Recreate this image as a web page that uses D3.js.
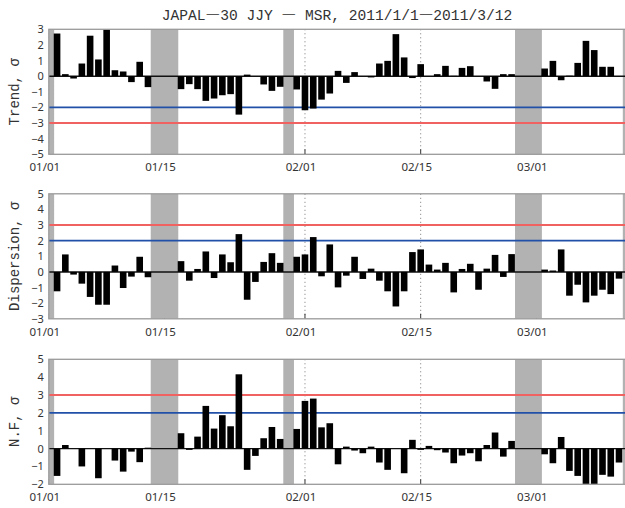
<!DOCTYPE html>
<html>
<head>
<meta charset="utf-8">
<script src="https://cdn.jsdelivr.net/npm/d3@7"></script>
<style>
  body { margin: 0; background: #fff; }
  svg { display: block; }
</style>
</head>
<body>
<svg id="chart" width="625" height="508"></svg>
<script>
// Daily anomaly indices (in sigma), one value per day from 2011/01/01; null = no data
const startDate = "2011-01-01";

const trend = [2.73,0.13,-0.15,0.81,2.59,1.07,3.0,0.38,0.3,-0.38,0.92,-0.7,null,null,null,
  -0.83,-0.51,-0.83,-1.58,-1.43,-1.22,-1.15,-2.46,0.1,0,-0.53,-0.94,-0.68,null,
  -0.85,-2.18,-2.07,-1.5,-1.11,0.34,-0.43,0.26,0,-0.08,0.81,0.98,2.69,1.2,-0.12,0.77,
  0,0.13,0.66,0.02,0.53,0.64,0,-0.34,-0.81,0.13,0.13,null,null,null,
  0.49,0.98,-0.26,0.03,0.85,2.26,1.67,0.6,0.6,0,null];

const dispersion = [-1.24,1.12,-0.17,-0.75,-1.6,-2.1,-2.1,0.41,-1.03,-0.3,0.97,-0.34,null,null,null,
  0.69,-0.56,0.19,1.31,-0.39,1.12,0.62,2.42,-1.78,-0.64,0.64,1.2,0.58,null,
  0.97,1.12,2.23,-0.28,1.76,-0.99,-0.24,0.97,-0.45,0.21,-0.56,-1.24,-2.21,-1.24,1.27,1.44,
  0.47,0.15,0.58,-1.31,0.19,0.52,-1.14,0.21,1.09,-0.32,1.14,null,null,null,
  0.15,0.09,1.44,-1.52,-0.82,-1.95,-1.52,-1.14,-1.42,-0.43,null];

const nf = [-1.53,0.2,0,-1.0,0,-1.66,0,-0.67,-1.29,-0.17,-0.76,0.05,null,null,null,
  0.86,-0.07,0.67,2.39,1.12,1.87,1.25,4.16,-1.19,-0.41,0.58,1.21,0.54,null,
  1.1,2.67,2.8,1.19,1.42,-0.88,0.11,-0.11,-0.26,0.11,-0.78,-1.19,0,-1.38,0.49,-0.07,
  0.15,-0.09,-0.22,-0.82,-0.39,-0.26,-0.71,0.2,0.9,-0.45,0.43,null,null,null,
  -0.32,-0.82,0.65,-1.25,-1.53,-2.0,-2.0,-1.47,-1.57,-0.78,null];

// Periods without observations (shaded)
const gapStarts = ["2011-01-01T00:00Z","2011-01-13T08:00Z","2011-01-29T09:00Z","2011-02-26T10:00Z","2011-03-11T11:00Z"];
const gapEnds   = ["2011-01-01T15:30Z","2011-01-16T16:00Z","2011-01-30T16:00Z","2011-03-01T16:00Z","2011-03-13T00:00Z"];

const tickDates = ["2011-01-01","2011-01-15","2011-02-01","2011-02-15","2011-03-01"];

const panelNames = ["Trend, σ", "Dispersion, σ", "N.F, σ"];
const panelSeries = [trend, dispersion, nf];
const yDomains = [[-5, 3], [-3, 5], [-2, 5]];
const blueLevels = [-2, 2, 2];
const redLevels = [-3, 3, 3];

const titleParts = ["JAPAL", "―", "30 JJY ", "―", " MSR, 2011/1/1", "―", "2011/3/12"];

const svg = d3.select("#chart");
const parse = s => new Date(s.length === 10 ? s + "T00:00Z" : s);
const t0 = parse(startDate);

const left = 48.8, dayPx = 8.264;
const x = d3.scaleUtc()
  .domain([t0, d3.utcDay.offset(t0, 71)])
  .range([left, left + 71 * dayPx]);

const panelTops = [29.3, 193.8, 359.3];
const panelH = 125;
const plotRight = x.range()[1];

// title
const title = svg.append("text")
  .attr("x", 337).attr("y", 20)
  .attr("text-anchor", "middle")
  .attr("font-family", "'Liberation Mono', 'DejaVu Sans Mono', monospace")
  .attr("font-size", 14.6)
  .attr("fill", "#333");
titleParts.forEach(p => {
  const ts = title.append("tspan").text(p);
  if (p === "―") ts.attr("font-family", "'Noto Sans CJK JP', sans-serif");
});

panelSeries.forEach((series, pi) => {
  const top = panelTops[pi];
  const bottom = top + panelH;
  const y = d3.scaleLinear().domain(yDomains[pi]).range([bottom, top]);
  const g = svg.append("g");
  const clipId = "clip" + pi;
  svg.append("clipPath").attr("id", clipId)
    .append("rect").attr("x", left).attr("y", top).attr("width", plotRight - left).attr("height", panelH);

  const body = g.append("g").attr("clip-path", `url(#${clipId})`);

  // dotted date grid and short date ticks (shading covers them inside gaps)
  body.selectAll(".grid").data(tickDates).join("line")
    .attr("x1", d => x(parse(d))).attr("x2", d => x(parse(d)))
    .attr("y1", top).attr("y2", bottom)
    .attr("stroke", "#777").attr("stroke-width", 1)
    .attr("stroke-dasharray", "1,3");
  body.selectAll(".tk").data(tickDates).join("line")
    .attr("x1", d => x(parse(d))).attr("x2", d => x(parse(d)))
    .attr("y1", bottom - 5).attr("y2", bottom)
    .attr("stroke", "#333").attr("stroke-width", 1);

  // data gaps
  body.selectAll(".gap").data(gapStarts).join("rect")
    .attr("x", d => x(parse(d)))
    .attr("width", (d, i) => x(parse(gapEnds[i])) - x(parse(d)))
    .attr("y", top).attr("height", panelH)
    .attr("fill", "#b2b2b2");

  // threshold levels
  body.append("line")
    .attr("x1", left).attr("x2", plotRight)
    .attr("y1", y(blueLevels[pi])).attr("y2", y(blueLevels[pi]))
    .attr("stroke", "#2150a8").attr("stroke-width", 1.8);
  body.append("line")
    .attr("x1", left).attr("x2", plotRight)
    .attr("y1", y(redLevels[pi])).attr("y2", y(redLevels[pi]))
    .attr("stroke", "#f06262").attr("stroke-width", 2);

  // zero line
  body.append("line")
    .attr("x1", left).attr("x2", plotRight)
    .attr("y1", y(0)).attr("y2", y(0))
    .attr("stroke", "#111").attr("stroke-width", 1.4);

  // daily bars, centred at the end of each day
  const bw = dayPx * 0.8;
  const pts = series.map((v, k) => ({ v, t: d3.utcDay.offset(t0, k + 1) })).filter(d => d.v !== null);
  body.selectAll(".bar").data(pts).join("rect")
    .attr("x", d => x(d.t) - bw / 2)
    .attr("width", bw)
    .attr("y", d => y(Math.max(0, d.v)))
    .attr("height", d => Math.abs(y(d.v) - y(0)))
    .attr("fill", "#000");

  // frame
  g.append("rect")
    .attr("x", left).attr("y", top).attr("width", plotRight - left).attr("height", panelH)
    .attr("fill", "none").attr("stroke", "#9a9a9a").attr("stroke-width", 1.3);

  // y axis
  const ya = g.append("g").attr("transform", `translate(${left},0)`)
    .call(d3.axisLeft(y).ticks(yDomains[pi][1] - yDomains[pi][0]).tickFormat(d3.format("d")).tickSize(0).tickPadding(5));
  ya.select(".domain").remove();
  ya.selectAll("text")
    .attr("font-family", "'Noto Sans', 'Open Sans', sans-serif")
    .attr("font-size", 11).attr("fill", "#333");

  // x axis labels
  const xa = g.append("g").attr("transform", `translate(0,${bottom})`)
    .call(d3.axisBottom(x).tickValues(tickDates.map(parse)).tickFormat(d3.utcFormat("%m/%d"))
      .tickSize(0).tickPadding(9));
  xa.select(".domain").remove();
  xa.selectAll(".tick line").remove();
  xa.selectAll("text")
    .attr("dx", -4.5)
    .attr("font-family", "'Noto Sans', 'Open Sans', sans-serif")
    .attr("font-size", 11.5).attr("fill", "#333");

  // axis name
  svg.append("text")
    .attr("transform", `translate(19,${top + panelH / 2}) rotate(-90)`)
    .attr("text-anchor", "middle")
    .attr("font-family", "'Liberation Mono', 'DejaVu Sans Mono', monospace")
    .attr("font-size", 14)
    .attr("fill", "#333")
    .text(panelNames[pi]);
});
</script>
</body>
</html>
